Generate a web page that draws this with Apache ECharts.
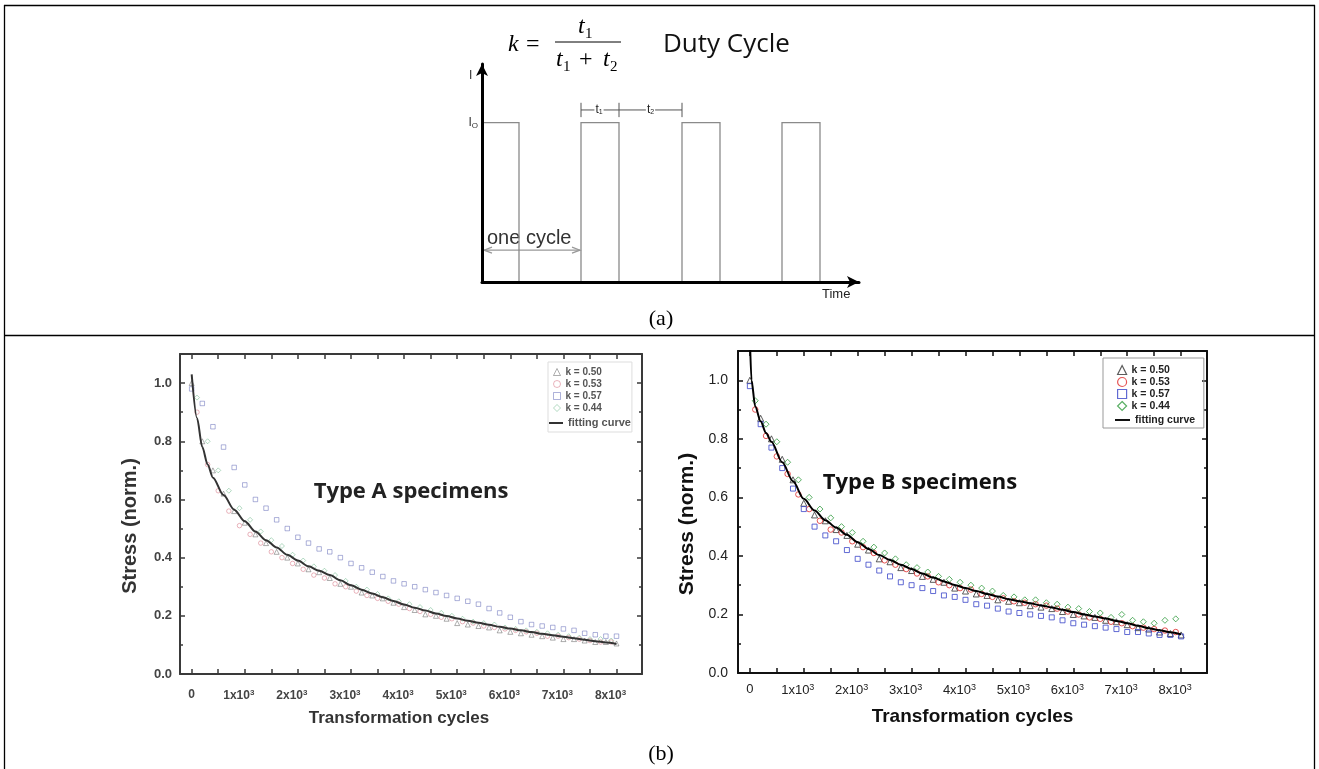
<!DOCTYPE html>
<html><head><meta charset="utf-8">
<script src="https://cdn.jsdelivr.net/npm/echarts@6/dist/echarts.min.js"></script>
<style>html,body{margin:0;padding:0;background:#fff}#c{width:1319px;height:769px}</style>
</head><body><div id="c"></div>
<script>
// ---------- data ----------
// (a) duty-cycle pulse train (time units, current level)
const dutyPulseOn  = [0, 9.9, 20.0, 30.0];
const dutyPulseOff = [3.7, 13.7, 23.8, 33.8];
const dutyLevel = 1;

// shared axis ticks for (b)
const cycleTickValues = [0,1000,2000,3000,4000,5000,6000,7000,8000];
const cycleTickLabels = ['0','{b|1x10}{s|3}','{b|2x10}{s|3}','{b|3x10}{s|3}','{b|4x10}{s|3}','{b|5x10}{s|3}','{b|6x10}{s|3}','{b|7x10}{s|3}','{b|8x10}{s|3}'];
const cycleTickMarks = [0,500,1000,1500,2000,2500,3000,3500,4000,4500,5000,5500,6000,6500,7000,7500,8000];

const cyclesA = [0,200,400,600,800,1000,1200,1400,1600,1800,2000,2200,2400,2600,2800,3000,3200,3400,3600,3800,4000,4200,4400,4600,4800,5000,5200,5400,5600,5800,6000,6200,6400,6600,6800,7000,7200,7400,7600,7800,8000];
const cyclesB = [100,300,500,700,900,1100,1300,1500,1700,1900,2100,2300,2500,2700,2900,3100,3300,3500,3700,3900,4100,4300,4500,4700,4900,5100,5300,5500,5700,5900,6100,6300,6500,6700,6900,7100,7300,7500,7700,7900];

// Type A specimens
const typeA_k050 = [1.00,0.80,0.70,0.62,0.56,0.52,0.48,0.45,0.42,0.40,0.38,0.36,0.35,0.33,0.31,0.30,0.28,0.27,0.26,0.245,0.23,0.22,0.205,0.20,0.19,0.175,0.17,0.165,0.16,0.15,0.145,0.14,0.135,0.13,0.125,0.12,0.12,0.115,0.11,0.11,0.105];
const typeA_k053 = [0.90,0.72,0.63,0.56,0.51,0.48,0.45,0.42,0.40,0.38,0.36,0.34,0.33,0.31,0.30,0.285,0.27,0.26,0.25,0.24,0.225,0.215,0.205,0.195,0.19,0.18,0.175,0.165,0.16,0.155,0.15,0.145,0.14,0.13,0.13,0.125,0.12,0.115,0.11,0.11];
const typeA_k057 = [0.98,0.93,0.85,0.78,0.71,0.65,0.60,0.57,0.53,0.50,0.47,0.45,0.43,0.42,0.40,0.38,0.365,0.35,0.335,0.32,0.31,0.30,0.29,0.28,0.27,0.26,0.25,0.24,0.225,0.21,0.195,0.18,0.17,0.165,0.16,0.155,0.15,0.14,0.135,0.13,0.13];
const typeA_k044 = [0.95,0.80,0.70,0.63,0.57,0.53,0.49,0.46,0.44,0.41,0.39,0.37,0.355,0.34,0.32,0.30,0.29,0.275,0.26,0.25,0.24,0.23,0.22,0.21,0.20,0.19,0.18,0.175,0.17,0.16,0.155,0.15,0.145,0.14,0.135,0.13,0.125,0.12,0.12,0.115];
const fitCyclesA = [0,100,200,300,400,600,800,1000,1200,1400,1600,1800,2000,2200,2400,2600,2800,3000,3200,3400,3600,3800,4000,4200,4400,4600,4800,5000,5200,5400,5600,5800,6000,6200,6400,6600,6800,7000,7200,7400,7600,7800,8000];
const fitA = [1.03,0.88,0.78,0.72,0.675,0.615,0.565,0.525,0.49,0.46,0.435,0.41,0.39,0.37,0.355,0.34,0.322,0.305,0.29,0.277,0.264,0.251,0.239,0.228,0.218,0.208,0.199,0.191,0.183,0.176,0.169,0.162,0.156,0.15,0.144,0.138,0.133,0.128,0.123,0.118,0.113,0.108,0.103];

// Type B specimens
const typeB_k050 = [1.00,0.87,0.80,0.73,0.66,0.58,0.54,0.52,0.49,0.47,0.44,0.42,0.39,0.38,0.36,0.35,0.33,0.32,0.31,0.29,0.28,0.27,0.265,0.25,0.245,0.24,0.23,0.225,0.22,0.21,0.20,0.195,0.19,0.18,0.175,0.165,0.155,0.15,0.14,0.135,0.13];
const typeB_k053 = [0.90,0.81,0.74,0.68,0.61,0.56,0.52,0.49,0.48,0.45,0.43,0.41,0.385,0.37,0.355,0.34,0.33,0.31,0.30,0.29,0.285,0.27,0.26,0.255,0.245,0.24,0.235,0.23,0.22,0.21,0.20,0.19,0.185,0.175,0.17,0.16,0.155,0.15,0.145,0.14];
const typeB_k057 = [0.98,0.85,0.77,0.70,0.63,0.56,0.50,0.47,0.45,0.42,0.39,0.37,0.35,0.33,0.31,0.30,0.29,0.28,0.265,0.26,0.25,0.235,0.23,0.22,0.21,0.205,0.20,0.195,0.19,0.18,0.17,0.165,0.16,0.155,0.15,0.14,0.14,0.135,0.13,0.13,0.125];
const typeB_k044 = [0.93,0.85,0.79,0.72,0.66,0.60,0.56,0.53,0.50,0.48,0.45,0.43,0.41,0.39,0.37,0.36,0.345,0.33,0.32,0.31,0.30,0.29,0.28,0.265,0.26,0.25,0.25,0.24,0.235,0.225,0.22,0.21,0.205,0.19,0.20,0.18,0.175,0.17,0.18,0.185];
const fitCyclesB = [0,30,100,200,300,400,600,800,1000,1200,1400,1600,1800,2000,2200,2400,2600,2800,3000,3200,3400,3600,3800,4000,4200,4400,4600,4800,5000,5200,5400,5600,5800,6000,6200,6400,6600,6800,7000,7200,7400,7600,7800,8000];
const fitB = [1.15,1.0,0.91,0.86,0.82,0.79,0.72,0.655,0.595,0.555,0.522,0.497,0.472,0.447,0.424,0.403,0.386,0.37,0.355,0.34,0.326,0.313,0.301,0.29,0.28,0.27,0.261,0.252,0.245,0.238,0.231,0.224,0.216,0.208,0.2,0.193,0.186,0.178,0.17,0.161,0.153,0.146,0.139,0.132];

const seriesNames = ['k = 0.50','k = 0.53','k = 0.57','k = 0.44'];

// ---------- chart ----------
const chart = echarts.init(document.getElementById('c'));
const zip = (xs, ys) => xs.map((x, i) => [x, ys[i]]);
const cycleLabel = v => { const i = cycleTickValues.indexOf(v); return i >= 0 ? cycleTickLabels[i] : ''; };
const SANS = '"Liberation Sans", Arial, sans-serif';
const SERIF = '"Liberation Serif", "Times New Roman", serif';
const OPEN = '"Open Sans", Lato, sans-serif';

function scatter(prefix, idx, xs, ys, xi, yi, symbol, color, size) {
  return { type: 'scatter', name: prefix + '|' + seriesNames[idx], xAxisIndex: xi, yAxisIndex: yi,
    symbol: symbol, symbolSize: size, data: zip(xs, ys), z: 3,
    itemStyle: { color: 'rgba(255,255,255,0)', borderColor: color, borderWidth: 1 } };
}

function xAxesFor(grid, color, lw, labelStyle, nameStyle, nameGap, margin, namePad) {
  return [
    { gridIndex: grid, type: 'value', position: 'bottom', min: -220, max: 8480,
      axisLine: { onZero: false, lineStyle: { color: color, width: lw } },
      axisTick: { inside: true, length: 5, customValues: cycleTickMarks, lineStyle: { color: color, width: 1.5 } },
      axisLabel: { customValues: cycleTickValues, formatter: cycleLabel, margin: margin,
        color: labelStyle.color, fontFamily: SANS, fontWeight: labelStyle.weight, fontSize: labelStyle.size,
        rich: { b: { fontSize: labelStyle.size, fontWeight: labelStyle.weight, color: labelStyle.color, fontFamily: SANS, lineHeight: labelStyle.size + 2 },
                s: { fontSize: labelStyle.size - 4, fontWeight: labelStyle.weight, color: labelStyle.color, fontFamily: SANS, verticalAlign: 'top', lineHeight: labelStyle.size - 2, padding: [0, 12, 0, 0] } } },
      splitLine: { show: false },
      name: 'Transformation cycles', nameLocation: 'middle', nameGap: nameGap,
      nameTextStyle: { fontFamily: SANS, fontWeight: 'bold', fontSize: nameStyle.size, color: nameStyle.color, padding: namePad } },
    { gridIndex: grid, type: 'value', position: 'top', min: -220, max: 8480,
      axisLine: { onZero: false, lineStyle: { color: color, width: lw } },
      axisTick: { inside: true, length: 5, customValues: cycleTickMarks, lineStyle: { color: color, width: 1.5 } },
      axisLabel: { show: false }, splitLine: { show: false } }
  ];
}
function yAxesFor(grid, color, lw, labelStyle, nameStyle, nameGap, margin) {
  const common = { gridIndex: grid, type: 'value', min: 0, max: 1.1, interval: 0.2,
    axisLine: { onZero: false, lineStyle: { color: color, width: lw } },
    axisTick: { inside: true, length: 5, lineStyle: { color: color, width: 1.5 } },
    minorTick: { show: true, splitNumber: 2, length: 3, lineStyle: { color: color, width: 1.5 } },
    splitLine: { show: false }, minorSplitLine: { show: false } };
  return [
    Object.assign({}, common, { position: 'left',
      axisLabel: { margin: margin, color: labelStyle.color, fontFamily: SANS, fontWeight: labelStyle.weight, fontSize: labelStyle.size,
        formatter: v => (Math.abs(v * 5 - Math.round(v * 5)) < 1e-6 ? v.toFixed(1) : '') },
      name: 'Stress (norm.)', nameLocation: 'middle', nameGap: nameGap,
      nameTextStyle: { fontFamily: SANS, fontWeight: 'bold', fontSize: nameStyle.size, color: nameStyle.color, padding: [0, 24, 0, 0] } }),
    Object.assign({}, common, { position: 'right', axisLabel: { show: false } })
  ];
}

const axA = xAxesFor(1, '#3a3a3a', 2, { color: '#444', weight: 'bold', size: 12 }, { color: '#333', size: 17 }, 36, 15, [0, 24, 0, 0]);
const axB = xAxesFor(2, '#111', 2, { color: '#222', weight: 'normal', size: 13 }, { color: '#111', size: 19 }, 34, 10, [0, 0, 0, 0]);
const ayA = yAxesFor(1, '#3a3a3a', 2, { color: '#444', weight: 'bold', size: 13 }, { color: '#333', size: 20 }, 40, 8);
const ayB = yAxesFor(2, '#111', 2, { color: '#222', weight: 'normal', size: 14 }, { color: '#111', size: 21 }, 40, 10);

const option = {
  animation: false,
  backgroundColor: '#fff',
  grid: [
    { left: 482, top: 64, width: 377, height: 218 },
    { left: 180, top: 354, width: 462, height: 320 },
    { left: 738, top: 351, width: 469, height: 322 }
  ],
  xAxis: [
    { gridIndex: 0, type: 'value', min: 0, max: 37.7, z: 5,
      axisLine: { onZero: false, lineStyle: { color: '#000', width: 3 }, symbol: ['none', 'arrow'], symbolSize: [9, 12] },
      axisTick: { show: false }, axisLabel: { show: false }, splitLine: { show: false } },
    axA[0], axA[1], axB[0], axB[1]
  ],
  yAxis: [
    { gridIndex: 0, type: 'value', min: 0, max: 1.3685, interval: 1, z: 5,
      axisLine: { onZero: false, lineStyle: { color: '#000', width: 3 }, symbol: ['none', 'arrow'], symbolSize: [9, 12] },
      axisTick: { show: false }, splitLine: { show: false },
      axisLabel: { margin: 4, formatter: v => (v === 1 ? '{a|I}{b|O}' : ''),
        rich: { a: { fontFamily: SANS, fontSize: 12, color: '#333' }, b: { fontFamily: SANS, fontSize: 8, color: '#333', padding: [6, 0, 0, 0] } } } },
    ayA[0], ayA[1], ayB[0], ayB[1]
  ],
  legend: [
    { data: seriesNames.map(n => 'A|' + n), formatter: n => n.split('|')[1], orient: 'vertical',
      left: 548, top: 362, padding: [4, 30, 18, 5], itemGap: 0, itemWidth: 7, itemHeight: 7, itemTextGap: 14,
      borderColor: '#ddd', borderWidth: 1, itemStyle: { borderWidth: 1 },
      textStyle: { fontFamily: SANS, fontWeight: 'bold', fontSize: 10, color: '#555', lineHeight: 12 } },
    { data: [{ name: 'A|fitting curve', icon: 'rect' }], formatter: n => n.split('|')[1],
      left: 549, top: 417, padding: 0, itemWidth: 14, itemHeight: 2, itemTextGap: 7,
      itemStyle: { color: '#333', borderWidth: 0 },
      textStyle: { fontFamily: SANS, fontWeight: 'bold', fontSize: 11, color: '#555', lineHeight: 12 } },
    { data: seriesNames.map(n => 'B|' + n), formatter: n => n.split('|')[1], orient: 'vertical',
      left: 1103, top: 358, padding: [6, 34, 16, 14], itemGap: 0, itemWidth: 9, itemHeight: 9, itemTextGap: 7,
      borderColor: '#999', borderWidth: 1, itemStyle: { borderWidth: 1.2 },
      textStyle: { fontFamily: SANS, fontWeight: 'bold', fontSize: 10.5, color: '#222', lineHeight: 12 } },
    { data: [{ name: 'B|fitting curve', icon: 'rect' }], formatter: n => n.split('|')[1],
      left: 1115, top: 414, padding: 0, itemWidth: 15, itemHeight: 2, itemTextGap: 4,
      itemStyle: { color: '#111', borderWidth: 0 },
      textStyle: { fontFamily: SANS, fontWeight: 'bold', fontSize: 10.5, color: '#222', lineHeight: 12 } }
  ],
  series: [
    { type: 'custom', name: 'pulses', xAxisIndex: 0, yAxisIndex: 0, z: 1,
      data: dutyPulseOn.map((t, i) => [t, dutyPulseOff[i], dutyLevel]),
      renderItem: (params, api) => {
        const a = api.coord([api.value(0), 0]);
        const b = api.coord([api.value(0), api.value(2)]);
        const c = api.coord([api.value(1), api.value(2)]);
        const d = api.coord([api.value(1), 0]);
        return { type: 'polyline', shape: { points: [a, b, c, d] }, style: { stroke: '#8a8a8a', lineWidth: 1.3, fill: null } };
      } },
    scatter('A', 0, cyclesA, typeA_k050, 1, 1, 'triangle', 'rgba(70,70,70,0.55)', 5),
    scatter('A', 1, cyclesB, typeA_k053, 1, 1, 'circle', 'rgba(200,70,90,0.5)', 4.5),
    scatter('A', 2, cyclesA, typeA_k057, 1, 1, 'rect', 'rgba(70,80,170,0.55)', 4.5),
    scatter('A', 3, cyclesB, typeA_k044, 1, 1, 'diamond', 'rgba(60,160,100,0.5)', 5),
    { type: 'line', name: 'A|fitting curve', xAxisIndex: 1, yAxisIndex: 1, data: zip(fitCyclesA, fitA),
      symbol: 'none', smooth: 0.3, smoothMonotone: 'x', lineStyle: { color: '#333', width: 2 }, itemStyle: { color: '#333' }, z: 4 },
    scatter('B', 0, cyclesA, typeB_k050, 3, 3, 'triangle', '#333', 6),
    scatter('B', 1, cyclesB, typeB_k053, 3, 3, 'circle', '#e02a2a', 5.5),
    scatter('B', 2, cyclesA, typeB_k057, 3, 3, 'rect', '#3a45c8', 5),
    scatter('B', 3, cyclesB, typeB_k044, 3, 3, 'diamond', '#2e9a3c', 6),
    { type: 'line', name: 'B|fitting curve', xAxisIndex: 3, yAxisIndex: 3, data: zip(fitCyclesB, fitB), clip: true,
      symbol: 'none', smooth: 0.3, smoothMonotone: 'x', lineStyle: { color: '#000', width: 2 }, itemStyle: { color: '#000' }, z: 4 }
  ]
};
chart.setOption(option);

// ---------- annotations ----------
const px = (x, y) => chart.convertToPixel({ gridIndex: 0 }, [x, y]);
const txt = (text, x, y, font, opts) => Object.assign({ type: 'text', x: x, y: y, silent: true,
  style: Object.assign({ text: text, font: font, fill: '#000', textAlign: 'left', textVerticalAlign: 'middle' }, (opts || {}).style || {}) }, opts && opts.el || {});
const seg = (x1, y1, x2, y2, stroke, lw) => ({ type: 'line', silent: true, shape: { x1: x1, y1: y1, x2: x2, y2: y2 }, style: { stroke: stroke, lineWidth: lw } });

const g = [];
// table rules
g.push(seg(4, 5.5, 1315, 5.5, '#000', 1.3));
g.push(seg(4.5, 5, 4.5, 769, '#000', 1.3));
g.push(seg(1314.5, 5, 1314.5, 769, '#000', 1.3));
g.push(seg(4, 335.5, 1315, 335.5, '#000', 1.3));
// panel labels
g.push(txt('(a)', 661, 319, '22px ' + SERIF, { style: { textAlign: 'center' } }));
g.push(txt('(b)', 661, 754, '22px ' + SERIF, { style: { textAlign: 'center' } }));
// formula
const IT = 'italic 24px ' + SERIF, SUB = '15px ' + SERIF, RM = '24px ' + SERIF;
g.push(txt('k', 508, 45, IT));
g.push(txt('=', 526, 45, RM));
g.push(txt('t', 578, 27, IT));
g.push(txt('1', 585, 34, SUB));
g.push(seg(555, 42, 621, 42, '#000', 1));
g.push(txt('t', 556, 60, IT));
g.push(txt('1', 563, 67, SUB));
g.push(txt('+', 579, 60, RM));
g.push(txt('t', 603, 60, IT));
g.push(txt('2', 610, 67, SUB));
g.push(txt('Duty Cycle', 663, 45, '26px ' + OPEN, { style: { fill: '#111' } }));
// diagram labels
g.push(txt('I', 469, 76, '12px ' + SANS, { style: { fill: '#333' } }));
g.push(txt('Time', 822, 294, '13px ' + SANS, { style: { fill: '#222' } }));
// t1/t2 bracket
const bY = px(0, 1.08)[1], bTop = px(0, 1.125)[1], bBot = px(0, 1.035)[1];
const e0 = px(dutyPulseOn[1], 0)[0], e1 = px(dutyPulseOff[1], 0)[0], e2 = px(dutyPulseOn[2], 0)[0];
g.push(seg(e0, bY, e2, bY, '#555', 1));
[e0, e1, e2].forEach(x => g.push(seg(x, bTop, x, bBot, '#555', 1)));
g.push({ type: 'text', silent: true, x: (e0 + e1) / 2 - 1, y: bY, style: { text: '{t|t}{s|1}', textAlign: 'center', textVerticalAlign: 'middle', backgroundColor: '#fff', padding: [0, 1],
  rich: { t: { font: '12px ' + SANS, fill: '#222' }, s: { font: '7px ' + SANS, fill: '#222', padding: [5, 0, 0, 0] } } } });
g.push({ type: 'text', silent: true, x: (e1 + e2) / 2, y: bY, style: { text: '{t|t}{s|2}', textAlign: 'center', textVerticalAlign: 'middle', backgroundColor: '#fff', padding: [0, 1],
  rich: { t: { font: '12px ' + SANS, fill: '#222' }, s: { font: '7px ' + SANS, fill: '#222', padding: [5, 0, 0, 0] } } } });
// one cycle arrow
const a0 = px(dutyPulseOn[0], 0.2), a1 = px(dutyPulseOn[1], 0.2);
g.push(seg(a0[0] + 2, a0[1], a1[0] - 1, a1[1], '#999', 1.2));
g.push({ type: 'polyline', silent: true, shape: { points: [[a0[0] + 10, a0[1] - 3], [a0[0] + 2, a0[1]], [a0[0] + 10, a0[1] + 3]] }, style: { stroke: '#999', lineWidth: 1.2, fill: null } });
g.push({ type: 'polyline', silent: true, shape: { points: [[a1[0] - 9, a1[1] - 3], [a1[0] - 1, a1[1]], [a1[0] - 9, a1[1] + 3]] }, style: { stroke: '#999', lineWidth: 1.2, fill: null } });
g.push(txt('one cycle', a0[0] + 5, px(0, 0.276)[1], '20px ' + SANS, { style: { fill: '#333' } }));
// chart titles
g.push(txt('Type A specimens', 411, 492, 'bold 22px ' + OPEN, { style: { textAlign: 'center', fill: '#222' } }));
g.push(txt('Type B specimens', 920, 483, 'bold 22px ' + OPEN, { style: { textAlign: 'center', fill: '#111' } }));

chart.setOption({ graphic: { elements: g } });
</script>
</body></html>
